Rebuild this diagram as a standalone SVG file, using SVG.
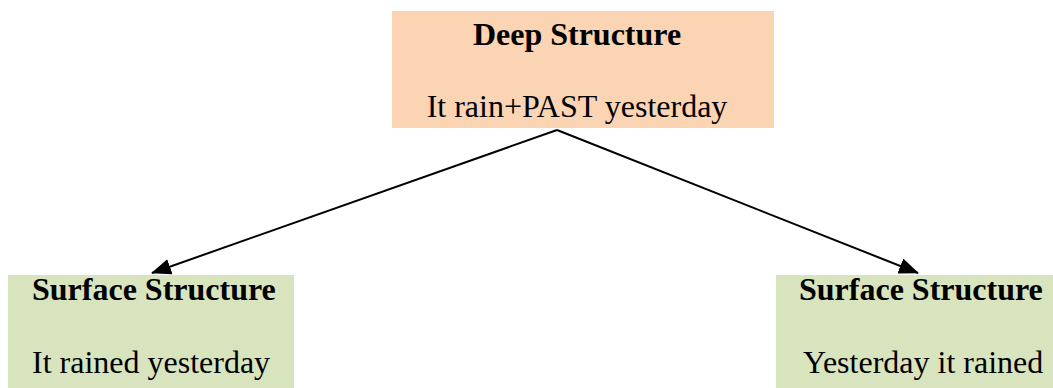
<svg xmlns="http://www.w3.org/2000/svg" width="1053" height="388" viewBox="0 0 1053 388">
<style>
.b{font-family:"Liberation Serif","Times New Roman",serif;font-size:32px;font-weight:bold;fill:#000}
.r{font-family:"Liberation Serif","Times New Roman",serif;font-size:32px;fill:#000}
.c{stroke:#000;stroke-width:2;fill:none}
</style>
<defs>
<marker id="ah" markerWidth="10" markerHeight="8" refX="9" refY="4" orient="auto" markerUnits="userSpaceOnUse" viewBox="0 0 10 8">
<path d="M0,0 L10,4 L0,8 Z" fill="#000"/>
</marker>
<marker id="a" viewBox="0 0 20 16" refX="19" refY="8" markerWidth="20" markerHeight="16" orient="auto" markerUnits="userSpaceOnUse">
<path d="M0,0 L20,8 L0,16 Z" fill="#000"/>
</marker>
</defs>
<rect width="1053" height="388" fill="#fff"/>
<g id="deep">
<rect x="392" y="11" width="382" height="117" fill="#FBD4B4"/>
<text class="b" x="577" y="45" text-anchor="middle">Deep Structure</text>
<text class="r" x="577" y="117" text-anchor="middle">It rain+PAST yesterday</text>
</g>
<g id="surface1">
<rect x="8" y="275" width="286" height="113" fill="#D7E4BD"/>
<text class="b" x="32" y="300">Surface Structure</text>
<text class="r" x="32" y="373">It rained yesterday</text>
</g>
<g id="surface2">
<rect x="776" y="275" width="277" height="113" fill="#D7E4BD"/>
<text class="b" x="799" y="300">Surface Structure</text>
<text class="r" x="803" y="373">Yesterday it rained</text>
</g>
<g id="connectors">
<path class="c" d="M557,130 L152,273" marker-end="url(#a)"/>
<path class="c" d="M557,130 L918,273" marker-end="url(#a)"/>
</g>
</svg>
